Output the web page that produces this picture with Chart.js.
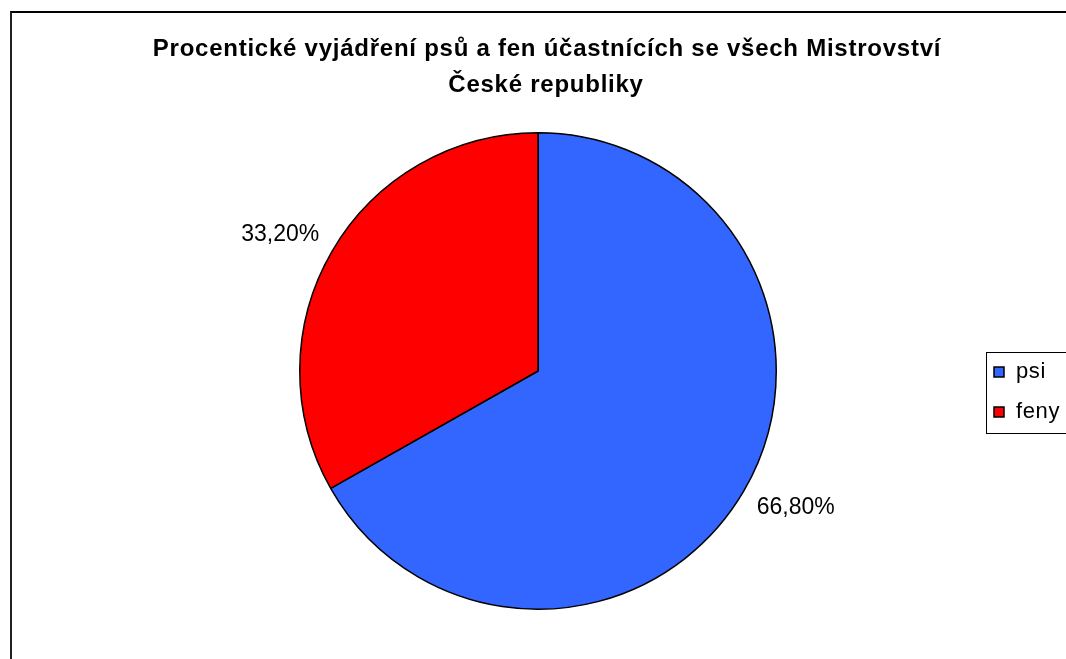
<!DOCTYPE html>
<html>
<head>
<meta charset="utf-8">
<script src="https://cdn.jsdelivr.net/npm/chart.js@4.4.1/dist/chart.umd.min.js"></script>
<style>
  html, body { margin: 0; padding: 0; background: #fff; overflow: hidden; }
  #frame { position: absolute; left: 10px; top: 11px; width: 2000px; height: 2000px;
           border-left: 2px solid #222; border-top: 2px solid #000; }
  #pieChart { position: absolute; left: 0; top: 0; }
</style>
</head>
<body>
<div id="frame"></div>
<canvas id="pieChart" width="1066" height="659"></canvas>
<script>
const titleLines = ['Procentické vyjádření psů a fen účastnících se všech Mistrovství', 'České republiky'];
const categories = ['psi', 'feny'];
const shares = [66.8, 33.2];
const sliceColors = ['#3366FF', '#FF0000'];

// procenta vedle výsečí (popisek se opírá rohem o bod za okrajem)
const sliceLabels = {
  id: 'sliceLabels',
  afterDatasetsDraw(chart) {
    const ctx = chart.ctx;
    const meta = chart.getDatasetMeta(0);
    ctx.save();
    ctx.font = '23px "Liberation Sans", Arial, sans-serif';
    ctx.fillStyle = '#000';
    ctx.textAlign = 'center';
    ctx.textBaseline = 'middle';
    meta.data.forEach((arc, i) => {
      const mid = (arc.startAngle + arc.endAngle) / 2;
      const d = arc.outerRadius + 15;
      const txt = shares[i].toFixed(2).replace('.', ',') + '%';
      const w = ctx.measureText(txt).width;
      const cx = Math.cos(mid), sy = Math.sin(mid);
      const x = arc.x + cx * d + Math.sign(cx) * w / 2;
      const y = arc.y + sy * d + Math.sign(sy) * 9;
      ctx.fillText(txt, x, y);
    });
    ctx.restore();
  }
};

// nadpis a legenda v rámečku
const titleAndLegend = {
  id: 'titleAndLegend',
  afterDraw(chart) {
    const ctx = chart.ctx;
    ctx.save();
    ctx.fillStyle = '#000';
    ctx.textAlign = 'center';
    ctx.textBaseline = 'alphabetic';
    ctx.font = 'bold 24px "Liberation Sans", Arial, sans-serif';
    ctx.letterSpacing = '0.75px';
    ctx.fillText(titleLines[0], 547, 56);
    ctx.fillText(titleLines[1], 546, 92);
    ctx.letterSpacing = '0px';

    ctx.strokeStyle = '#000';
    ctx.lineWidth = 1;
    ctx.strokeRect(986.5, 352.5, 100, 81);

    ctx.font = '22px "Liberation Sans", Arial, sans-serif';
    ctx.textAlign = 'left';
    ctx.textBaseline = 'middle';
    categories.forEach((c, i) => {
      const y = 372 + i * 40;
      ctx.fillStyle = sliceColors[i];
      ctx.fillRect(994, y - 5, 10, 10);
      ctx.lineWidth = 1.5;
      ctx.strokeRect(994, y - 5, 10, 10);
      ctx.fillStyle = '#000';
      ctx.letterSpacing = '0.6px';
      ctx.fillText(c, 1016, y);
    });
    ctx.restore();
  }
};

new Chart(document.getElementById('pieChart'), {
  type: 'pie',
  data: {
    labels: categories,
    datasets: [{
      data: shares,
      backgroundColor: sliceColors,
      borderColor: '#000',
      borderWidth: 1.5
    }]
  },
  options: {
    responsive: false,
    animation: false,
    layout: { padding: { left: 299, right: 289, top: 132, bottom: 49 } },
    plugins: {
      legend: { display: false },
      title: { display: false },
      tooltip: { enabled: false }
    }
  },
  plugins: [sliceLabels, titleAndLegend]
});
</script>
</body>
</html>
